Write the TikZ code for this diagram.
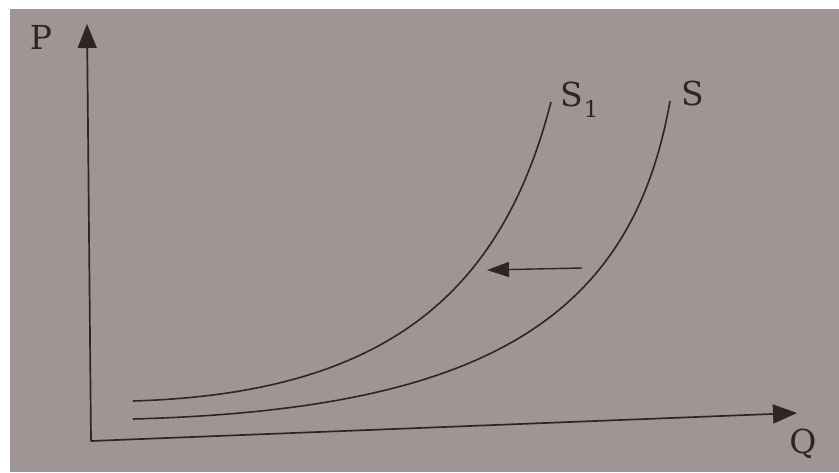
\documentclass[tikz,border=0pt]{standalone}
\usepackage{fontspec}
\setmainfont{DejaVu Serif}
\usetikzlibrary{arrows.meta}
\definecolor{paper}{RGB}{158,150,148}
\definecolor{ink}{RGB}{50,36,36}
\tikzset{
  axisline/.style={ink, line width=1.7pt, -{Triangle[length=24pt,width=19pt]}},
  curveline/.style={ink, line width=1.6pt},
  shiftarrow/.style={ink, line width=1.4pt, -{Triangle[length=22pt,width=15pt]}},
  lbl/.style={ink, inner sep=0pt, font=\fontsize{33}{33}\selectfont}
}
\begin{document}
\begin{tikzpicture}[x=1pt,y=-1pt]
\fill[white] (0,0) rectangle (839,472);
\fill[paper] (10,9) rectangle (839,472);
\useasboundingbox (0,0) rectangle (839,472);
\coordinate (O) at (91,441);
\coordinate (Ptop) at (87,24);
\coordinate (Qend) at (797,413);
\draw[axisline] (O) -- (Ptop);
\draw[axisline] (O) -- (Qend);
\node[lbl] (P) at (41,37) {P};
\node[lbl] (Q) at (803,444) {Q};
\coordinate (s1a) at (133,401);
\coordinate (s1b) at (551,102);
\coordinate (sa) at (133,419);
\coordinate (sb) at (670,101);
\draw[curveline] (s1a) .. controls (383,393.5) and (501,296) .. (s1b);
\draw[curveline] (sa) .. controls (478,409.6) and (631.6,322.5) .. (sb);
\node[lbl, anchor=base west] (S1) at (560,106) {S\hspace{1pt}\raisebox{-11pt}{\fontsize{23}{23}\selectfont 1}};
\node[lbl, anchor=base west] (S) at (681,105) {S};
\coordinate (tail) at (582,268);
\coordinate (tip) at (487,270);
\draw[shiftarrow] (tail) -- (tip);
\end{tikzpicture}
\end{document}
